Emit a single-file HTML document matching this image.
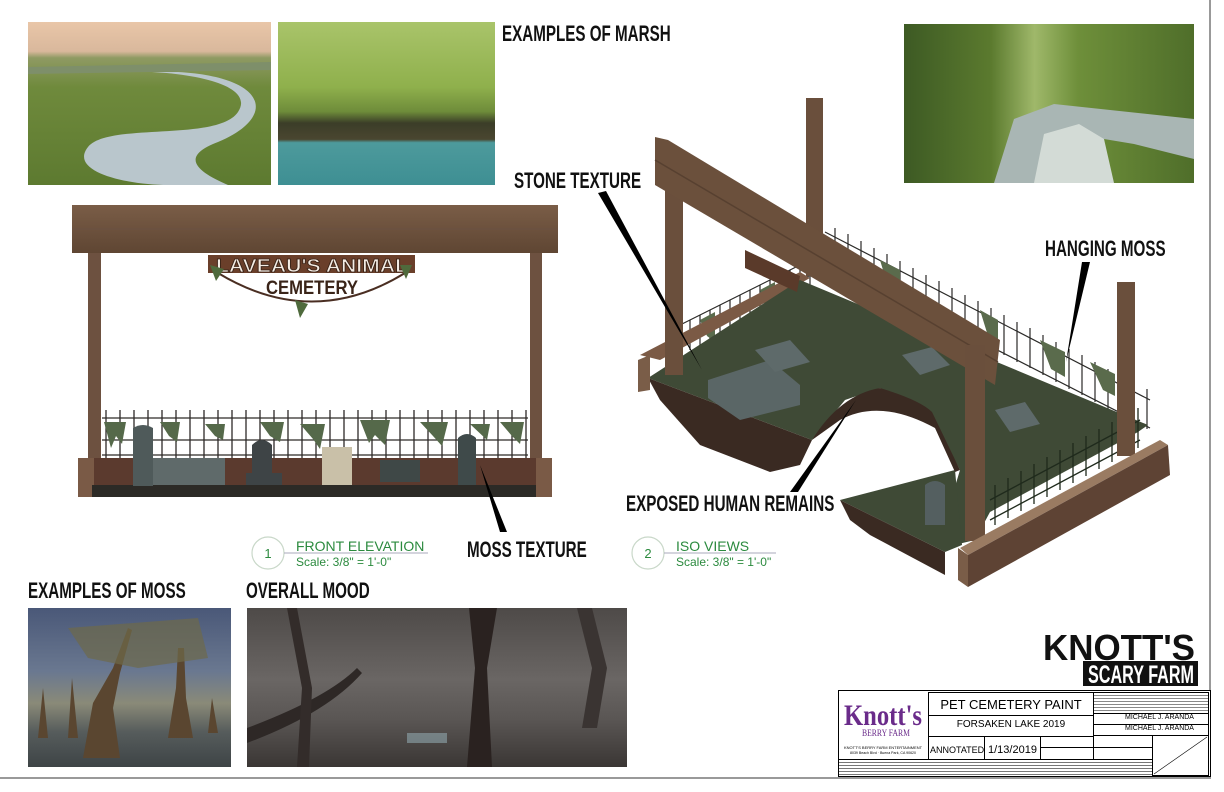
<!DOCTYPE html>
<html><head><meta charset="utf-8"><style>
*{margin:0;padding:0;box-sizing:border-box}
body{width:1224px;height:792px;background:#fff;position:relative;overflow:hidden;font-family:"Liberation Sans",sans-serif}
.a{position:absolute}
.lbl{position:absolute;font-family:"Liberation Sans",sans-serif;font-weight:bold;font-size:22px;color:#111;white-space:nowrap;line-height:1;transform:scaleX(0.69);transform-origin:0 0}
.ph{position:absolute;overflow:hidden}
.tb{position:absolute;border:1.5px solid #000;background:#fff}
</style></head><body>

<div class="a" style="left:1209px;top:0;width:2px;height:779px;background:#999"></div>
<div class="a" style="left:0;top:777px;width:1211px;height:2px;background:#999"></div>

<div class="ph" style="left:28px;top:22px;width:243px;height:163px;background:linear-gradient(180deg,#e9c6a8 0%,#d9b89c 18%,#8f9a63 22%,#6f8a3c 40%,#5d7a30 100%)">
 <svg width="243" height="163" class="a" style="left:0;top:0"><path d="M60,50 C150,45 230,60 210,90 C190,120 80,100 60,125 C40,150 100,163 140,163 L200,163 C170,150 150,135 190,120 C250,95 240,55 150,50Z" fill="#b9c6cc"/><path d="M0,45 L243,40 L243,48 L0,52Z" fill="#7e8f6a"/></svg>
</div>
<div class="ph" style="left:278px;top:22px;width:217px;height:163px;background:linear-gradient(180deg,#a9c46a 0%,#8fb04c 40%,#6e8c3a 55%,#3b3d28 62%,#4a4630 72%,#4d9a9c 74%,#3e8f93 100%)"></div>
<div class="lbl" style="left:502px;top:23px">EXAMPLES OF MARSH</div>
<div class="ph" style="left:904px;top:24px;width:290px;height:159px;background:linear-gradient(90deg,#3d5a24 0%,#5b7a2e 30%,#9fb86a 45%,#6e8f3a 60%,#4f6e2a 100%)">
 <svg width="290" height="159" class="a" style="left:0;top:0"><path d="M90,159 L110,95 L150,80 L290,95 L290,135 L230,120 L170,110 L190,159Z" fill="#a9b6b4"/><path d="M130,159 L140,110 L175,100 L200,115 L210,159Z" fill="#d3dbd6"/></svg>
</div>

<svg class="a" style="left:0;top:0" width="1224" height="792">
 <defs>
  <linearGradient id="wd" x1="0" y1="0" x2="0" y2="1"><stop offset="0" stop-color="#7a5d47"/><stop offset="1" stop-color="#5f4633"/></linearGradient>
 </defs>
 <rect x="72" y="205" width="486" height="48" fill="url(#wd)"/>
 <rect x="72" y="228" width="486" height="2" fill="#6b5140"/>
 <rect x="88" y="253" width="13" height="244" fill="#6d5140"/>
 <rect x="530" y="253" width="12" height="244" fill="#6d5140"/>
 <rect x="208" y="255" width="207" height="18" fill="#6a3f2a"/>
 <path d="M218,273 Q312,330 405,273" fill="none" stroke="#4a2e22" stroke-width="2"/>
 <text x="216" y="272" textLength="192" lengthAdjust="spacingAndGlyphs" font-weight="bold" font-size="18" fill="#f4ece4" stroke="#3a2418" stroke-width="0.8">LAVEAU'S ANIMAL</text>
 <text x="266" y="294" textLength="92" lengthAdjust="spacingAndGlyphs" font-weight="bold" font-size="19" fill="#3a2418">CEMETERY</text>
 <path d="M295,300 l5,18 l8,-14 z M210,265 l6,16 l8,-12z M400,265 l6,14 l6,-14z" fill="#4f6a3c"/>
 <g stroke="#2e2a28" stroke-width="1.2">
  <line x1="102" y1="418" x2="528" y2="418"/><line x1="102" y1="440" x2="528" y2="440"/><line x1="102" y1="455" x2="528" y2="455"/>
 </g>
 <g stroke="#2e2a28" stroke-width="1.3">
  <path d="M106,410v48M120,410v48M134,410v48M148,410v48M162,410v48M176,410v48M190,410v48M204,410v48M218,410v48M232,410v48M246,410v48M260,410v48M274,410v48M288,410v48M302,410v48M316,410v48M330,410v48M344,410v48M358,410v48M372,410v48M386,410v48M400,410v48M414,410v48M428,410v48M442,410v48M456,410v48M470,410v48M484,410v48M498,410v48M512,410v48M526,410v48"/>
 </g>
 <g fill="#55694a">
  <path d="M104,422h22l-4,22l-6,-8l-5,12z M160,422h20l-3,20l-8,-6z M205,424h20l-2,16l-8,-4z M260,422h24l-4,20l-10,-6z M300,424h25l-5,25l-7,-10z M360,420h30l-5,25l-10,-10l-6,8z M420,422h28l-6,24l-9,-10z M470,424h20l-3,16z M500,422h24l-4,22l-8,-8z"/>
 </g>
 <rect x="78" y="458" width="474" height="39" fill="#5b3a2e"/>
 <rect x="78" y="458" width="16" height="39" fill="#7a5a46"/><rect x="536" y="458" width="16" height="39" fill="#7a5a46"/>
 <rect x="92" y="485" width="444" height="12" fill="#2c2a26"/>
 <path d="M133,428 q10,-6 20,0 v58 h-20z" fill="#4f5a5a"/>
 <rect x="153" y="458" width="72" height="27" fill="#5f6a6a"/>
 <path d="M252,445 q10,-10 20,0 v28 h10 v12 h-36 v-12 h6z" fill="#3e4446"/>
 <rect x="322" y="447" width="30" height="38" fill="#c9c0a8"/>
 <rect x="380" y="460" width="40" height="22" fill="#3f4847"/>
 <path d="M458,438 q9,-8 18,0 v47 h-18z" fill="#3f4a4a"/>

 <!-- ISO -->
 <g stroke="#2b2a28" stroke-width="1.2" fill="none">
  <path d="M680,325 L820,255 M680,345 L820,270"/>
  <path d="M690,320v30M700,315v30M710,310v30M720,305v30M730,300v30M740,295v30M750,290v30M760,285v30M770,280v30M780,275v30M790,270v30M800,265v30M810,260v30"/>
  <path d="M825,232 L1150,400 M825,262 L1150,428"/>
  <path d="M835,228v40M848,234v40M861,241v40M874,248v40M887,254v40M900,261v40M913,268v40M926,275v40M939,281v40M952,288v40M965,295v40M978,301v40M991,308v40M1004,315v40M1017,322v40M1030,328v40M1043,335v40M1056,342v40M1069,349v40M1082,355v40M1095,362v40M1108,369v40M1121,376v40M1134,382v40M1147,389v40"/>
 </g>
 <g fill="#5a6b4c"><path d="M700,320l15,-8v30l-8,-6z M760,290l15,-8v28l-10,-5z M880,260l20,10v25l-12,-8z M980,310l18,10v20l-10,-4z M1040,340l25,12v25l-14,-8z M1090,362l25,12v22l-12,-6z"/></g>
 <path d="M640,355 L800,272 L810,278 L660,360Z" fill="#7b5a45"/>
 <path d="M648,378 L800,280 L1148,425 L1138,432 L990,512 L975,540 L950,546 L945,520 L960,470 L930,412 L880,388 L845,400 L812,440 Z" fill="#3f4a36"/>
 <path d="M840,500 L955,470 L962,545 L945,552 Z" fill="#3f4a36"/>
 <path d="M648,378 L812,440 L800,465 L770,472 L700,445 L660,400 Z" fill="#3a2a22"/>
 <path d="M812,440 Q840,395 880,388 Q920,400 932,412 L960,470 L955,472 L935,428 Q880,398 840,420Z" fill="#3a2a22"/>
 <path d="M840,500 L945,552 L945,575 L870,535 L850,520Z" fill="#3a2a22"/>
 <path d="M708,380 L770,360 L800,385 L800,405 L740,420 L708,398Z" fill="#5a6666"/>
 <path d="M755,350 L790,340 L810,362 L775,372Z" fill="#5e6a6a"/>
 <path d="M902,355 L932,347 L950,365 L920,375Z" fill="#5e6a6a"/>
 <path d="M995,410 L1025,402 L1040,424 L1010,432Z" fill="#5e6a6a"/>
 <path d="M925,485 q10,-8 20,0 v40 h-20z" fill="#545f60"/>
 <g stroke="#1f2a1c" stroke-width="1.3" fill="none">
  <path d="M990,500 L1140,420 M990,520 L1140,440"/>
  <path d="M995,485v40M1008,478v40M1021,471v40M1034,464v40M1047,457v40M1060,450v40M1073,443v40M1086,436v40M1099,429v40M1112,422v40M1125,415v40M1138,408v40"/>
 </g>
 <rect x="806" y="98" width="17" height="178" fill="#6a4f3c"/>
 <rect x="665" y="182" width="18" height="193" fill="#6a4f3c"/>
 <rect x="1117" y="282" width="18" height="174" fill="#6a4f3c"/>
 <path d="M655,137 L668,140 L1000,340 L995,385 L655,185 Z" fill="#6b503c"/>
 <path d="M655,160 L998,362" stroke="#574030" stroke-width="1.5"/>
 <rect x="965" y="345" width="20" height="196" fill="#6a4f3c"/>
 <path d="M960,548 L1160,440 L1168,445 L968,555Z" fill="#9a7b62"/>
 <path d="M968,555 L1168,445 L1170,475 L968,587Z" fill="#5e4334"/>
 <path d="M958,548 L968,555 L968,587 L958,580Z" fill="#7a5d48"/>
 <path d="M638,360 L650,355 L650,390 L638,392Z" fill="#7a5d48"/>
 <path d="M745,250 L800,276 L797,292 L745,268Z" fill="#5a3a2a"/>

 <path d="M598,193 L606,191 L702,370 Z" fill="#000"/>
 <path d="M1082,262 L1090,262 L1066,362 Z" fill="#000"/>
 <path d="M790,492 L798,492 L856,400 Z" fill="#000"/>
 <path d="M480,465 L500,532 L507,532 Z" fill="#000"/>

 <circle cx="268" cy="553" r="16" fill="none" stroke="#c9d8c9" stroke-width="1.2"/>
 <text x="268" y="558" text-anchor="middle" font-size="13" fill="#2b8a3e">1</text>
 <line x1="284" y1="553" x2="428" y2="553" stroke="#aab" stroke-width="1"/>
 <text x="296" y="551" font-size="14" fill="#2b8a3e">FRONT ELEVATION</text>
 <text x="296" y="566" font-size="12" fill="#2b8a3e">Scale: 3/8" = 1'-0"</text>
 <circle cx="648" cy="553" r="16" fill="none" stroke="#c9d8c9" stroke-width="1.2"/>
 <text x="648" y="558" text-anchor="middle" font-size="13" fill="#2b8a3e">2</text>
 <line x1="664" y1="553" x2="776" y2="553" stroke="#aab" stroke-width="1"/>
 <text x="676" y="551" font-size="14" fill="#2b8a3e">ISO VIEWS</text>
 <text x="676" y="566" font-size="12" fill="#2b8a3e">Scale: 3/8" = 1'-0"</text>
</svg>

<div class="lbl" style="left:514px;top:170px">STONE TEXTURE</div>
<div class="lbl" style="left:1045px;top:238px">HANGING MOSS</div>
<div class="lbl" style="left:626px;top:493px">EXPOSED HUMAN REMAINS</div>
<div class="lbl" style="left:467px;top:539px">MOSS TEXTURE</div>
<div class="lbl" style="left:28px;top:580px">EXAMPLES OF MOSS</div>
<div class="lbl" style="left:246px;top:580px">OVERALL MOOD</div>

<div class="ph" style="left:28px;top:608px;width:203px;height:159px;background:linear-gradient(180deg,#4a5878 0%,#6a7890 40%,#8a8a78 60%,#565c5c 78%,#3e4446 100%)">
 <svg width="203" height="159" class="a" style="left:0;top:0" fill="#5a4630"><path d="M55,150 L65,95 L85,60 L100,20 L104,22 L92,65 L85,100 L92,150Z"/><path d="M140,130 L148,80 L150,40 L156,40 L158,90 L165,130Z"/><path d="M10,130 L15,80 L20,130Z M40,130 L44,70 L50,130Z M180,125 L184,90 L190,125Z"/><path d="M40,20 L170,10 L180,50 L110,60 L60,50Z" fill="#6e6a4a" opacity=".7"/></svg>
</div>
<div class="ph" style="left:247px;top:608px;width:380px;height:159px;background:linear-gradient(180deg,#4e4a48 0%,#6a6664 45%,#5a5654 70%,#3a3634 100%)">
 <svg width="380" height="159" class="a" style="left:0;top:0"><path d="M220,159 L228,60 L222,0 L250,0 L240,60 L245,159Z" fill="#2a2220"/><path d="M0,120 Q80,90 110,60 L115,65 Q80,105 0,135Z" fill="#2e2826"/><path d="M40,0 L55,80 L50,159 L62,159 L65,80 L50,0Z" fill="#332c2a"/><path d="M330,0 L345,60 L335,120 L350,120 L360,60 L345,0Z" fill="#3a3432"/><rect x="160" y="125" width="40" height="10" fill="#8fa6ae" opacity=".6"/></svg>
</div>

<svg class="a" style="left:1040px;top:630px" width="160" height="58">
 <text x="3" y="30" textLength="152" lengthAdjust="spacingAndGlyphs" font-weight="bold" font-size="36" fill="#111">KNOTT'S</text>
 <rect x="43" y="31" width="115" height="25" fill="#111"/>
 <text x="48" y="53" textLength="106" lengthAdjust="spacingAndGlyphs" font-weight="bold" font-size="25" fill="#fff">SCARY FARM</text>
</svg>

<div class="tb" style="left:838px;top:690px;width:373px;height:87px"></div>
<svg class="a" style="left:840px;top:695px" width="86" height="62">
 <text x="4" y="30" textLength="78" lengthAdjust="spacingAndGlyphs" font-family="Liberation Serif,serif" font-weight="bold" font-size="30" fill="#6a2b8a">Knott's</text>
 <text x="22" y="41" textLength="48" lengthAdjust="spacingAndGlyphs" font-family="Liberation Serif,serif" font-size="9" fill="#6a2b8a">BERRY FARM</text>
 <text x="4" y="54" textLength="78" lengthAdjust="spacingAndGlyphs" font-size="4">KNOTT'S BERRY FARM ENTERTAINMENT</text>
 <text x="10" y="59" textLength="66" lengthAdjust="spacingAndGlyphs" font-size="4">8039 Beach Blvd · Buena Park, CA 90620</text>
</svg>
<div class="tb" style="left:928px;top:692px;width:166px;height:24px"></div>
<div class="a" style="left:928px;top:697px;width:166px;text-align:center;font-size:13px">PET CEMETERY PAINT</div>
<div class="tb" style="left:928px;top:715px;width:166px;height:22px"></div>
<div class="a" style="left:928px;top:719px;width:166px;text-align:center;font-size:10px">FORSAKEN LAKE 2019</div>
<div class="tb" style="left:928px;top:736px;width:57px;height:24px"></div>
<div class="a" style="left:930px;top:745px;font-size:9px">ANNOTATED</div>
<div class="tb" style="left:984px;top:736px;width:57px;height:24px"></div>
<div class="a" style="left:988px;top:744px;font-size:11px">1/13/2019</div>
<div class="tb" style="left:1040px;top:736px;width:54px;height:12px"></div>
<div class="tb" style="left:1040px;top:747px;width:54px;height:13px"></div>
<div class="tb" style="left:1093px;top:692px;width:116px;height:22px;background:repeating-linear-gradient(#fff 0,#fff 2px,#888 2px,#888 3px)"></div>
<div class="tb" style="left:1093px;top:713px;width:116px;height:12px"></div>
<div class="a" style="left:1125px;top:714px;font-size:7px">MICHAEL J. ARANDA</div>
<div class="tb" style="left:1093px;top:724px;width:116px;height:12px"></div>
<div class="a" style="left:1125px;top:725px;font-size:7px">MICHAEL J. ARANDA</div>
<div class="tb" style="left:1093px;top:735px;width:60px;height:13px"></div>
<div class="tb" style="left:1093px;top:747px;width:60px;height:13px"></div>
<div class="tb" style="left:1152px;top:735px;width:57px;height:41px"></div>
<svg class="a" style="left:1152px;top:735px" width="57" height="41"><line x1="2" y1="39" x2="55" y2="2" stroke="#000" stroke-width="0.6"/></svg>
<div class="tb" style="left:838px;top:759px;width:315px;height:18px;background:repeating-linear-gradient(#fff 0,#fff 2px,#777 2px,#777 3px)"></div>
</body></html>
